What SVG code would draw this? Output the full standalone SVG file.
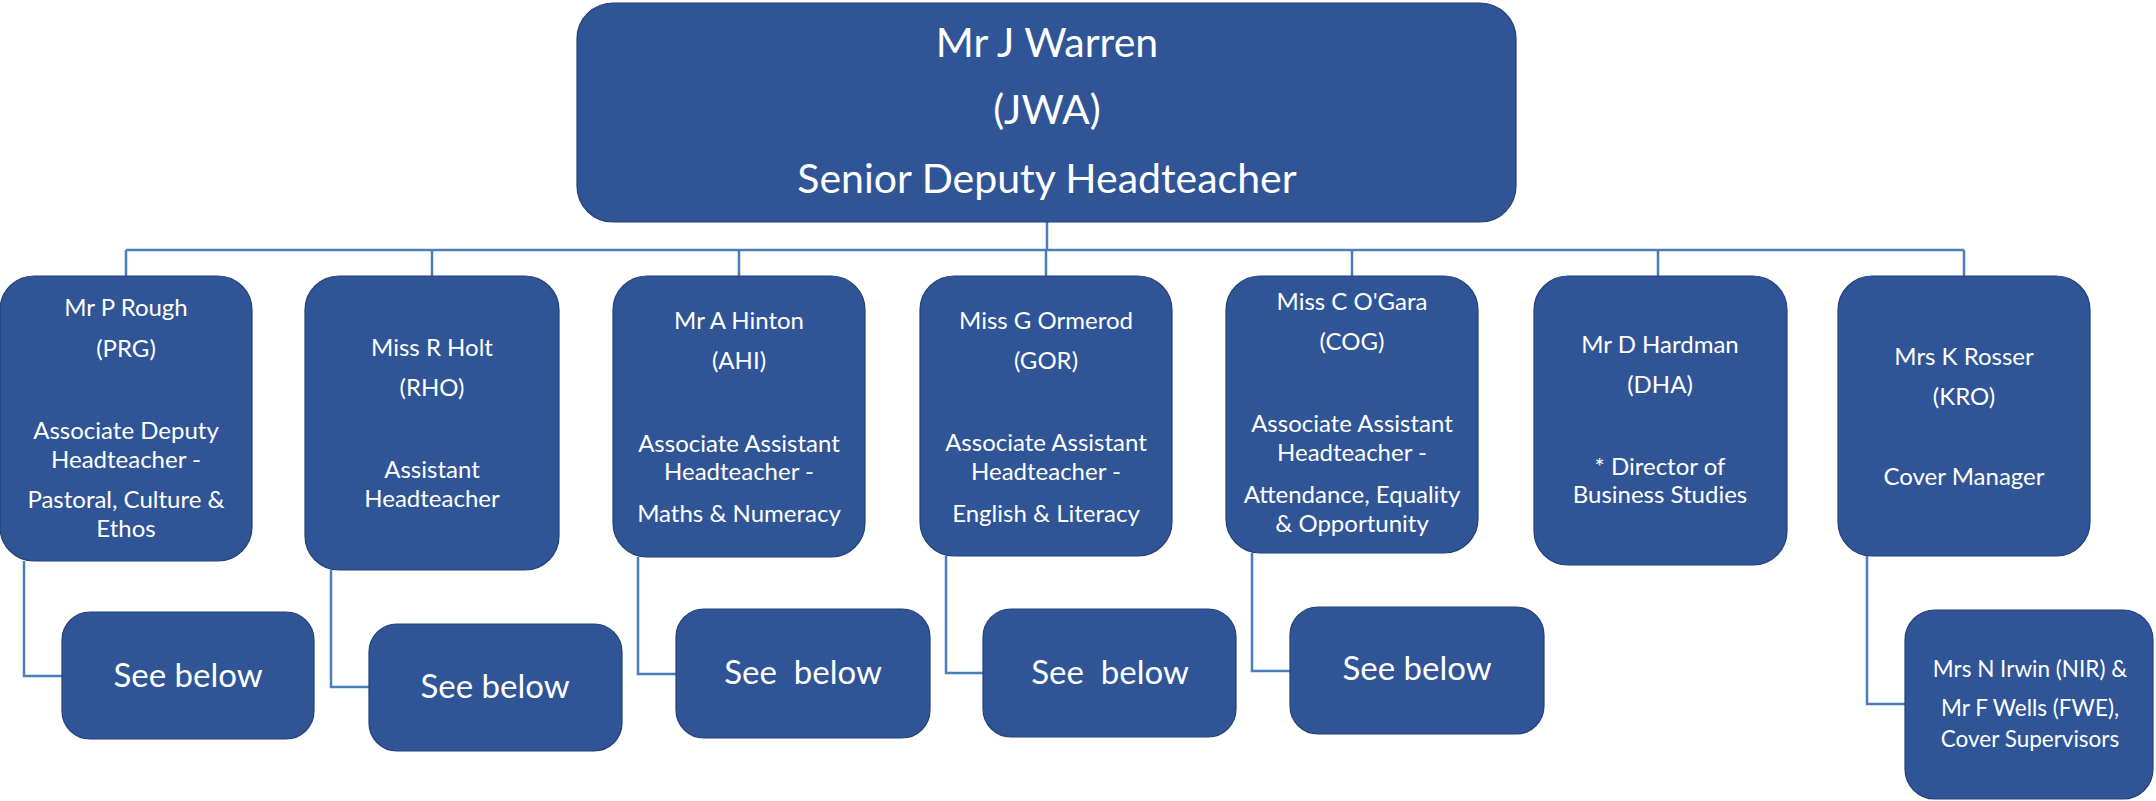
<svg xmlns="http://www.w3.org/2000/svg" width="2156" height="801" viewBox="0 0 2156 801">
<style>
.box{fill:#2F5597;stroke:#22407a;stroke-width:1.2}
.conn{fill:none;stroke:#4A7EBB;stroke-width:2.5}
text{font-family:Lato,"Open Sans","Liberation Sans",sans-serif;fill:#fff;text-anchor:middle;white-space:pre}
.t{font-size:24px}
.big{font-size:41px}
.sb{font-size:33px}
.s{font-size:22.5px}
</style>
<rect width="2156" height="801" fill="#fff"/>
<g id="connectors">
<path class="conn" d="M1047 222V250M126 250H1964M126 250V276M432 250V276M739 250V276M1046 250V276M1352 250V276M1658 250V276M1964 250V276"/>
<path class="conn" d="M24 561V676H62M331 570V687H369M638 557V674H676M946 556V673H983M1252 553V671H1290M1867 556V704H1905"/>
</g>
<g id="jwa">
<rect class="box" x="577" y="3" width="939" height="219" rx="36"/>
<text class="big" x="1047" y="57">Mr J Warren</text>
<text class="big" x="1047" y="124">(JWA)</text>
<text class="big" x="1047" y="193">Senior Deputy Headteacher</text>
</g>
<g id="prg">
<rect class="box" x="0" y="276" width="252" height="285" rx="34"/>
<text class="t" x="126" y="316">Mr P Rough</text>
<text class="t" x="126" y="357">(PRG)</text>
<text class="t" x="126" y="439">Associate Deputy</text>
<text class="t" x="126" y="468">Headteacher -</text>
<text class="t" x="126" y="508">Pastoral, Culture &amp;</text>
<text class="t" x="126" y="537">Ethos</text>
</g>
<g id="rho">
<rect class="box" x="305" y="276" width="254" height="294" rx="34"/>
<text class="t" x="432" y="356">Miss R Holt</text>
<text class="t" x="432" y="396">(RHO)</text>
<text class="t" x="432" y="478">Assistant</text>
<text class="t" x="432" y="507">Headteacher</text>
</g>
<g id="ahi">
<rect class="box" x="613" y="276" width="252" height="281" rx="34"/>
<text class="t" x="739" y="329">Mr A Hinton</text>
<text class="t" x="739" y="369">(AHI)</text>
<text class="t" x="739" y="452">Associate Assistant</text>
<text class="t" x="739" y="480">Headteacher -</text>
<text class="t" x="739" y="522">Maths &amp; Numeracy</text>
</g>
<g id="gor">
<rect class="box" x="920" y="276" width="252" height="280" rx="34"/>
<text class="t" x="1046" y="329">Miss G Ormerod</text>
<text class="t" x="1046" y="369">(GOR)</text>
<text class="t" x="1046" y="451">Associate Assistant</text>
<text class="t" x="1046" y="480">Headteacher -</text>
<text class="t" x="1046" y="522">English &amp; Literacy</text>
</g>
<g id="cog">
<rect class="box" x="1226" y="276" width="252" height="277" rx="34"/>
<text class="t" x="1352" y="310">Miss C O'Gara</text>
<text class="t" x="1352" y="350">(COG)</text>
<text class="t" x="1352" y="432">Associate Assistant</text>
<text class="t" x="1352" y="461">Headteacher -</text>
<text class="t" x="1352" y="503">Attendance, Equality</text>
<text class="t" x="1352" y="532">&amp; Opportunity</text>
</g>
<g id="dha">
<rect class="box" x="1534" y="276" width="253" height="289" rx="34"/>
<text class="t" x="1660" y="353">Mr D Hardman</text>
<text class="t" x="1660" y="393">(DHA)</text>
<text class="t" x="1660" y="475">* Director of</text>
<text class="t" x="1660" y="503">Business Studies</text>
</g>
<g id="kro">
<rect class="box" x="1838" y="276" width="252" height="280" rx="34"/>
<text class="t" x="1964" y="365">Mrs K Rosser</text>
<text class="t" x="1964" y="405">(KRO)</text>
<text class="t" x="1964" y="485">Cover Manager</text>
</g>
<g id="prg-below">
<rect class="box" x="62" y="612" width="252" height="127" rx="28"/>
<text class="sb" x="188" y="687">See below</text>
</g>
<g id="rho-below">
<rect class="box" x="369" y="624" width="253" height="127" rx="28"/>
<text class="sb" x="495" y="698">See below</text>
</g>
<g id="ahi-below">
<rect class="box" x="676" y="609" width="254" height="129" rx="28"/>
<text class="sb" x="803" y="684">See  below</text>
</g>
<g id="gor-below">
<rect class="box" x="983" y="609" width="253" height="128" rx="28"/>
<text class="sb" x="1110" y="684">See  below</text>
</g>
<g id="cog-below">
<rect class="box" x="1290" y="607" width="254" height="127" rx="28"/>
<text class="sb" x="1417" y="680">See below</text>
</g>
<g id="nir-fwe">
<rect class="box" x="1905" y="610" width="248" height="189" rx="30"/>
<text class="s" x="2030" y="677">Mrs N Irwin (NIR) &amp;</text>
<text class="s" x="2030" y="716">Mr F Wells (FWE),</text>
<text class="s" x="2030" y="747">Cover Supervisors</text>
</g>
</svg>
